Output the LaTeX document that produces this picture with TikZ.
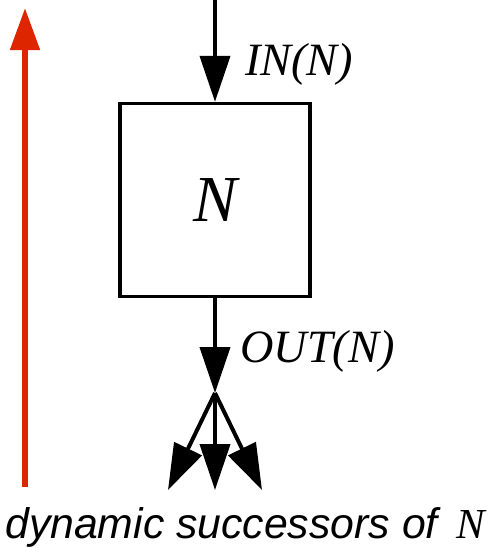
\documentclass[tikz,border=0pt]{standalone}
\usepackage{fontspec}
\setmainfont{Liberation Serif}
\setsansfont{Liberation Sans}
\usetikzlibrary{arrows.meta,positioning}
\definecolor{flowred}{RGB}{221,38,0}

\begin{document}
\begin{tikzpicture}[x=0.03cm,y=-0.03cm,
  lbl/.style={font=\fontsize{39.5}{41}\selectfont\itshape,inner sep=0pt},
  nd/.style={draw,line width=2.6pt,minimum width=5.7cm,minimum height=5.8cm,inner sep=0pt,font=\fontsize{56}{58}\selectfont\itshape},
  ar/.style={-{Triangle[length=1.38cm,width=0.9cm]},line width=3.4pt},
  up/.style={-{Triangle[length=1.26cm,width=0.86cm]},line width=5.1pt,flowred}]
\useasboundingbox (0,0) rectangle (492,548);
% the node and its flow
\node[nd] (n) at (215,200) {N};
\coordinate (src) at (215,0);
\coordinate (fork) at (215,393);
\coordinate (s1) at (168,490);
\coordinate (s2) at (215,490);
\coordinate (s3) at (262,490);
\draw[ar] (src) -- (n.north);
\draw[ar] (n.south) -- (fork);
\foreach \s in {s1,s2,s3}
  \draw[ar] (fork) -- (\s);
\node[lbl,anchor=base west] (in) at (245,75) {IN(N)};
\node[lbl,anchor=base west] (out) at (240,362) {OUT(N)};
% direction of the analysis
\coordinate (rb) at (25,487);
\coordinate (rt) at (25,8);
\draw[up] (rb) -- (rt);
\node[anchor=base west,inner sep=0pt,font=\fontsize{36.5}{38}\selectfont\sffamily\itshape] (succ) at (5,538) {dynamic successors of\ \hspace{6pt}{\rmfamily N}};
\end{tikzpicture}
\end{document}
